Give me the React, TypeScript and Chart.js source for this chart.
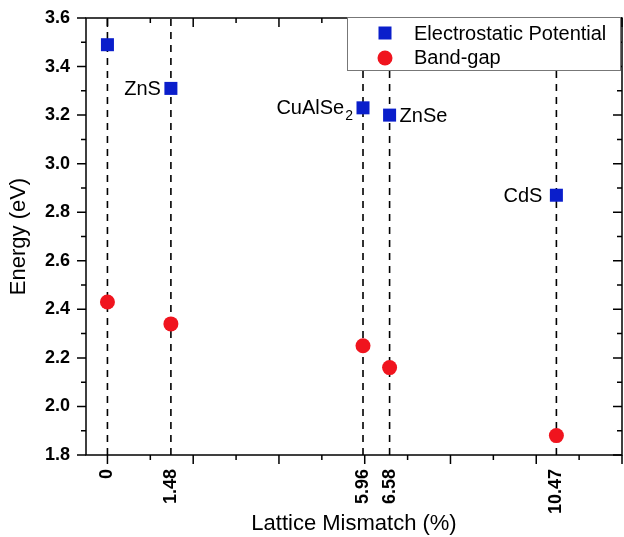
import React, { useEffect, useRef } from 'react';
import { Chart, registerables } from 'chart.js';

Chart.register(...registerables);

const latticeMismatch = [0, 1.48, 5.96, 6.58, 10.47];
const xTickLabels = ['0', '1.48', '5.96', '6.58', '10.47'];
const electrostaticPotential = [3.49, 3.31, 3.23, 3.2, 2.87];
const bandGap = [2.43, 2.34, 2.25, 2.16, 1.88];
const materialNames = ['', 'ZnS', 'CuAlSe|2', 'ZnSe', 'CdS'];
const seriesNames = ['Electrostatic Potential', 'Band-gap'];

const FONT = '"Liberation Sans", Arial, Helvetica, sans-serif';
const BLUE = '#0a1ecb';
const RED = '#f0141e';

const framePlugin = {
  id: 'framePlugin',
  afterDatasetsDraw(chart: any) {
    const ctx = chart.ctx as CanvasRenderingContext2D;
    const { left, right, top, bottom } = chart.chartArea;
    const xs = chart.scales.x;
    const ys = chart.scales.y;
    ctx.save();
    ctx.strokeStyle = '#000';
    ctx.lineWidth = 1.5;
    ctx.strokeRect(left, top, right - left, bottom - top);
    ctx.beginPath();
    for (let v = 0; v <= 12; v++) {
      const px = xs.getPixelForValue(v);
      if (px < left - 0.5 || px > right + 0.5) continue;
      const len = v % 2 === 0 ? 9 : 5;
      ctx.moveTo(px, bottom);
      ctx.lineTo(px, bottom + len);
      ctx.moveTo(px, top);
      ctx.lineTo(px, top + len);
    }
    for (let k = 0; k <= 18; k++) {
      const v = 1.8 + k * 0.1;
      const py = ys.getPixelForValue(v);
      const len = k % 2 === 0 ? 9 : 5;
      ctx.moveTo(left - len, py);
      ctx.lineTo(left, py);
      ctx.moveTo(right - len, py);
      ctx.lineTo(right, py);
    }
    ctx.stroke();

    // material labels
    ctx.fillStyle = '#000';
    ctx.textBaseline = 'middle';
    materialNames.forEach((name, i) => {
      if (!name) return;
      const px = xs.getPixelForValue(latticeMismatch[i]);
      const py = ys.getPixelForValue(electrostaticPotential[i]);
      const [main, sub] = name.split('|');
      ctx.font = `20px ${FONT}`;
      const wMain = ctx.measureText(main).width;
      let wSub = 0;
      if (sub) {
        ctx.font = `14px ${FONT}`;
        wSub = ctx.measureText(sub).width + 1;
      }
      const onRight = main === 'ZnSe';
      const gap = main === 'CdS' ? 14 : 10;
      const startX = onRight ? px + gap : px - gap - wMain - wSub;
      ctx.font = `20px ${FONT}`;
      ctx.textAlign = 'left';
      ctx.fillText(main, startX, py + 1);
      if (sub) {
        ctx.font = `14px ${FONT}`;
        ctx.fillText(sub, startX + wMain + 1, py + 8);
      }
    });

    // legend
    const lx = 347, ly = 17, lw = 273, lh = 53;
    ctx.fillStyle = '#fff';
    ctx.fillRect(lx, ly, lw, lh);
    ctx.strokeStyle = '#777';
    ctx.lineWidth = 1;
    ctx.strokeRect(lx + 0.5, ly + 0.5, lw, lh);
    ctx.fillStyle = BLUE;
    ctx.fillRect(385 - 6.5, 33 - 6.5, 13, 13);
    ctx.fillStyle = RED;
    ctx.beginPath();
    ctx.arc(385, 58, 7.5, 0, Math.PI * 2);
    ctx.fill();
    ctx.fillStyle = '#000';
    ctx.font = `20px ${FONT}`;
    ctx.textAlign = 'left';
    ctx.textBaseline = 'middle';
    ctx.fillText(seriesNames[0], 414, 34);
    ctx.fillText(seriesNames[1], 414, 58);
    ctx.restore();
  },
};

export default function App() {
  const ref = useRef<HTMLCanvasElement>(null);
  useEffect(() => {
    document.body.style.margin = '0';
    const canvas = ref.current;
    if (!canvas) return;
    const dashed = latticeMismatch.map((x) => ({
      type: 'line' as const,
      label: 'guide',
      data: [
        { x, y: 1.8 },
        { x, y: 3.6 },
      ],
      borderColor: '#000',
      borderWidth: 1.6,
      borderDash: [7, 6],
      pointRadius: 0,
      showLine: true,
      order: 5,
    }));
    const chart = new Chart(canvas, {
      type: 'scatter',
      data: {
        datasets: [
          {
            label: seriesNames[0],
            data: latticeMismatch.map((x, i) => ({ x, y: electrostaticPotential[i] })),
            pointStyle: 'rect',
            pointRadius: 9.2,
            pointBackgroundColor: BLUE,
            pointBorderWidth: 0,
            borderColor: BLUE,
            order: 1,
          },
          {
            label: seriesNames[1],
            data: latticeMismatch.map((x, i) => ({ x, y: bandGap[i] })),
            pointStyle: 'circle',
            pointRadius: 7.5,
            pointBackgroundColor: RED,
            pointBorderWidth: 0,
            borderColor: RED,
            order: 1,
          },
          ...(dashed as any[]),
        ],
      },
      options: {
        responsive: false,
        animation: false,
        layout: { autoPadding: false, padding: { top: 18, right: 2, left: 0, bottom: 0 } },
        plugins: { legend: { display: false }, tooltip: { enabled: false } },
        scales: {
          x: {
            type: 'linear',
            min: -0.5,
            max: 12,
            afterBuildTicks: (s: any) => {
              s.ticks = latticeMismatch.map((v) => ({ value: v }));
            },
            afterFit: (s: any) => {
              s.height = 82;
              s.paddingLeft = 0;
              s.paddingRight = 0;
              s.paddingTop = 0;
              s.paddingBottom = 0;
            },
            ticks: {
              autoSkip: false,
              minRotation: 90,
              maxRotation: 90,
              padding: 14,
              color: '#000',
              font: { family: FONT, size: 18, weight: 'bold' },
              callback: (_v: any, i: number) => xTickLabels[i],
            },
            grid: { display: false, drawTicks: false },
            border: { display: false },
            title: {
              display: true,
              text: 'Lattice Mismatch (%)',
              color: '#000',
              font: { family: FONT, size: 22 },
              padding: { top: 0, bottom: 0 },
            },
          },
          y: {
            min: 1.8,
            max: 3.6,
            afterFit: (s: any) => {
              s.width = 86;
              s.paddingLeft = 0;
              s.paddingRight = 0;
              s.paddingTop = 0;
              s.paddingBottom = 0;
            },
            ticks: {
              stepSize: 0.2,
              padding: 16,
              color: '#000',
              font: { family: FONT, size: 18, weight: 'bold' },
              callback: (v: any) => Number(v).toFixed(1),
            },
            grid: { display: false, drawTicks: false },
            border: { display: false },
            title: {
              display: true,
              text: 'Energy (eV)',
              color: '#000',
              font: { family: FONT, size: 22 },
              padding: { top: 6, bottom: 0 },
            },
          },
        },
      } as any,
      plugins: [framePlugin],
    });
    return () => chart.destroy();
  }, []);
  return <canvas ref={ref} width={624} height={537} style={{ display: 'block' }} />;
}
